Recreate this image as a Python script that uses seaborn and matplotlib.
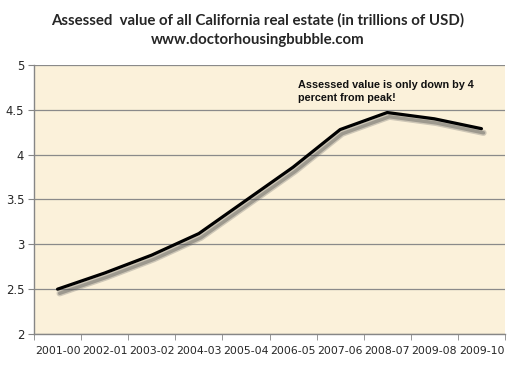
import numpy as np
import pandas as pd
import seaborn as sns
from matplotlib import pyplot as plt
import matplotlib.patheffects as pe

#%% data
years = ['2001-00', '2002-01', '2003-02', '2004-03', '2005-04',
         '2006-05', '2007-06', '2008-07', '2009-08', '2009-10']
value = [2.50, 2.68, 2.88, 3.12, 3.49, 3.86, 4.28, 4.47, 4.40, 4.29]
y_ticks = [2, 2.5, 3, 3.5, 4, 4.5, 5]
y_labels = ['2', '2.5', '3', '3.5', '4', '4.5', '5']

df = pd.DataFrame({'year': years, 'value': value})

#%% plot
sns.set_style('white')
plt.rcParams['font.family'] = ['DejaVu Sans']

fig = plt.figure(figsize=(5.15, 3.67), dpi=100)
ax = fig.add_axes([34/515, 1-334/367, (505-34)/515, (334-65)/367])
ax.set_facecolor('#fbf1da')

g = sns.lineplot(data=df, x='year', y='value', color='black', lw=2.3, ax=ax,
                 sort=False)
g.lines[0].set_path_effects([
    pe.SimpleLineShadow(offset=(1.5, -3), shadow_color='#666666', alpha=0.3, linewidth=4.5),
    pe.SimpleLineShadow(offset=(1.5, -3), shadow_color='#444444', alpha=0.35, linewidth=2.5),
    pe.Normal()])

ax.set_xlim(-0.5, len(years) - 0.5)
ax.set_ylim(2, 5)
ax.set_yticks(y_ticks)
ax.set_yticklabels(y_labels, fontsize=8.4)
ax.set_xticks(range(len(years)))
ax.set_xticklabels(years, fontsize=7.8)
ax.set_xticks(np.arange(-0.5, len(years)), minor=True)
ax.tick_params(axis='x', which='major', length=0, pad=9)
ax.tick_params(axis='x', which='minor', length=4, color='#868686', direction='out', bottom=True)
ax.tick_params(axis='y', length=4, color='#868686', direction='out', left=True, pad=3)
ax.grid(axis='y', color='#8a8a8a', lw=0.9)
ax.set_axisbelow(True)
ax.set_xlabel('')
ax.set_ylabel('')
for s in ['top', 'right']:
    ax.spines[s].set_visible(False)
for s in ['left', 'bottom']:
    ax.spines[s].set_color('#868686')
    ax.spines[s].set_linewidth(1)

ax.text(5.1, 4.83, 'Assessed value is only down by 4\npercent from peak!',
        fontsize=7.8, fontweight='bold', family='Liberation Sans', va='top',
        linespacing=1.3, color='#111111')

fig.text(0.5, 1-20/367, 'Assessed  value of all California real estate (in trillions of USD)',
         ha='center', va='center', fontsize=10.8, fontweight='bold', family='Lato')
fig.text(0.5, 1-40/367, 'www.doctorhousingbubble.com',
         ha='center', va='center', fontsize=10.8, fontweight='bold', family='Lato')

fig.savefig('out.png', dpi=100, facecolor='white')
